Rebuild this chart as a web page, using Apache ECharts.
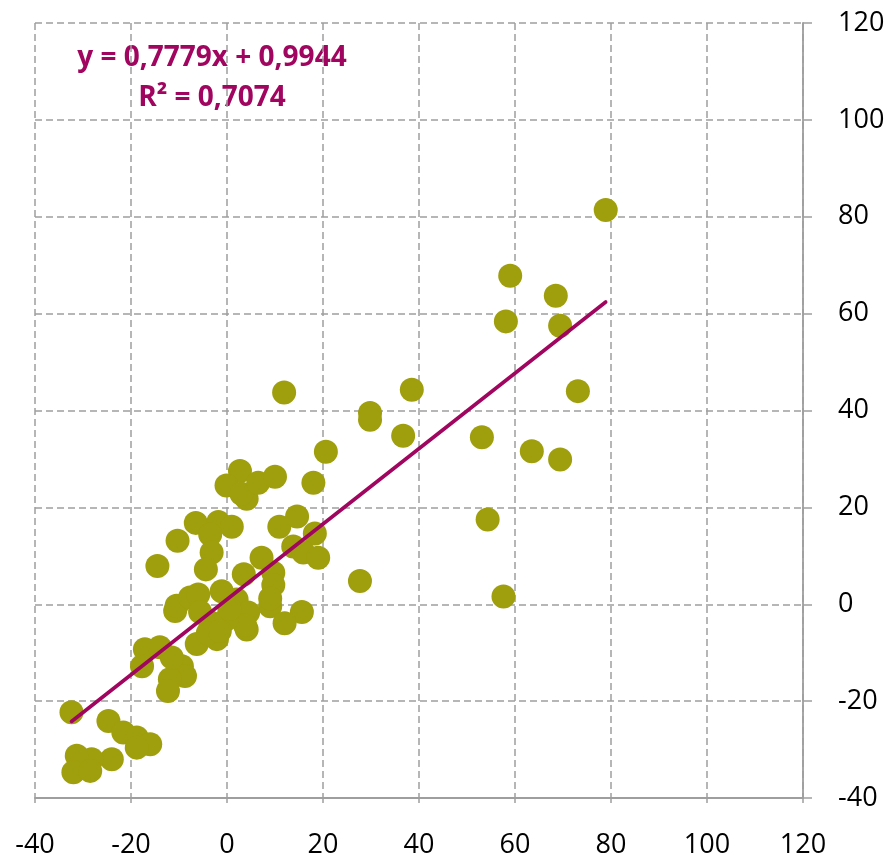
<!DOCTYPE html>
<html>
<head>
<meta charset="utf-8">
<script src="https://cdn.jsdelivr.net/npm/echarts@6/dist/echarts.min.js"></script>
<style>
html,body{margin:0;padding:0;background:#fff;}
#c{width:885px;height:857px;}
</style>
</head>
<body>
<div id="c"></div>
<script>
// Scatter values (x, y)
const pointsX = [78.9, 59.0, 68.5, 58.1, 69.4, 38.5, 73.1, 29.8, 29.8, 36.7, 53.1, 63.5, 69.4, 54.3, 27.7, 57.6,
  11.9, 20.6, 18.0, 2.7, -0.1, 4.1, 3.0, 6.5, 10.0, -6.5, -1.8, 1.0, -3.5, -10.3, -3.2, -4.4, -14.5,
  10.9, 14.6, 18.3, 13.8, 15.9, 19.0, 7.2, 3.5, 9.65, 9.65, 9.0, 9.0, 15.6, 12.0,
  -10.8, -10.5, -7.7, -6.0, -1.1, 2.0, 4.4, 4.1, 3.75, -6.3, -2.1, -3.5, -0.1, -5.6, -4.0, -1.5, 0.5,
  -17.1, -14.0, -17.7, -9.4, -8.75, -11.9, -12.3, -11.5,
  -32.4, -24.7, -21.6, -18.8, -16.0, -18.8, -24.0, -28.2, -31.3, -32.0, -28.5];
const pointsY = [81.4, 67.8, 63.7, 58.4, 57.5, 44.3, 44.0, 39.5, 38.1, 34.8, 34.5, 31.6, 29.9, 17.5, 4.8, 1.6,
  43.7, 31.5, 25.1, 27.5, 24.5, 21.8, 22.8, 25.1, 26.3, 16.8, 17.0, 16.0, 14.4, 13.1, 10.7, 7.2, 7.9,
  16.0, 18.1, 14.6, 11.9, 10.7, 9.6, 9.6, 6.2, 6.5, 4.0, -0.4, 1.2, -1.6, -3.9,
  -1.4, -0.3, 1.4, 2.0, 2.7, 1.0, -1.7, -5.2, -4.3, -8.2, -7.2, -3.7, -3.1, -1.6, -6.0, -5.5, -1.0,
  -9.3, -8.9, -12.8, -12.8, -14.8, -15.5, -17.9, -11.0,
  -22.3, -24.1, -26.5, -27.5, -28.9, -29.6, -32.0, -32.0, -31.3, -34.7, -34.4];
// Trendline end points
const trendX = [-32.4, 78.9];
const trendY = [-24.2, 62.4];
// Axis ticks
const axisMin = -40, axisMax = 120, axisStep = 20;
const equationText = 'y = 0,7779x + 0,9944';
const r2Text = 'R² = 0,7074';

const chart = echarts.init(document.getElementById('c'));
const FONT = 'Open Sans';
const gridColor = '#9e9e9e';
const scatterData = pointsX.map((x, i) => [x, pointsY[i]]);
const trendData = trendX.map((x, i) => [x, trendY[i]]);

chart.setOption({
  animation: false,
  backgroundColor: '#ffffff',
  grid: { left: 35, right: 82, top: 23, bottom: 59, containLabel: false, outerBoundsMode: 'none' },
  xAxis: [{
    type: 'value', min: axisMin, max: axisMax, interval: axisStep,
    position: 'bottom',
    axisLine: { show: false },
    axisTick: { show: false },
    axisLabel: { color: '#000', fontFamily: FONT, fontSize: 27, margin: 34 },
    splitLine: { show: true, lineStyle: { color: gridColor, type: [7, 4], width: 1.5 } }
  }, {
    type: 'value', min: axisMin, max: axisMax, interval: axisStep,
    position: 'bottom',
    axisLine: { show: true, onZero: true, lineStyle: { color: gridColor, width: 1.8 } },
    axisTick: { show: true, length: 5, lineStyle: { color: gridColor, width: 1.5 } },
    axisLabel: { show: false },
    splitLine: { show: false }
  }],
  yAxis: {
    type: 'value', min: axisMin, max: axisMax, interval: axisStep,
    position: 'right',
    axisLine: { show: true, onZero: false, lineStyle: { color: gridColor, width: 1.8 } },
    axisTick: { show: true, length: 9, lineStyle: { color: gridColor, width: 1.5 } },
    axisLabel: { color: '#000', fontFamily: FONT, fontSize: 27, margin: 35 },
    splitLine: { show: true, lineStyle: { color: gridColor, type: [7, 4], width: 1.5 } }
  },
  series: [{
    type: 'scatter',
    xAxisIndex: 0,
    data: scatterData,
    symbolSize: 24,
    itemStyle: { color: '#9f9e0c', opacity: 1 },
    z: 3
  }, {
    type: 'line',
    xAxisIndex: 0,
    data: trendData,
    symbol: 'none',
    lineStyle: { color: '#a0055f', width: 3.6, cap: 'round' },
    z: 4
  }],
  graphic: [{
    type: 'text', x: 212, y: 58,
    style: { text: equationText, fill: '#a0055f', font: 'bold 28px "Open Sans"', textAlign: 'center', textVerticalAlign: 'middle' }
  }, {
    type: 'text', x: 212, y: 98,
    style: { text: r2Text, fill: '#a0055f', font: 'bold 28px "Open Sans"', textAlign: 'center', textVerticalAlign: 'middle' }
  }]
});
</script>
</body>
</html>
